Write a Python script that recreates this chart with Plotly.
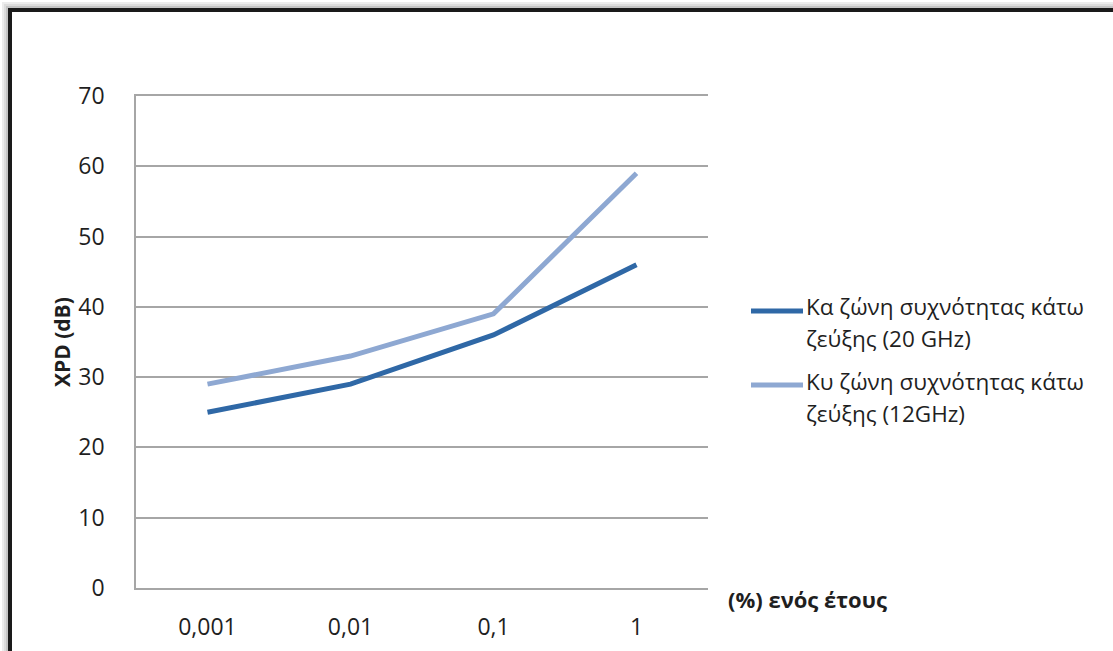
import plotly.graph_objects as go

# Percentage of the year (category axis) and XPD values in dB
categories = ["0,001", "0,01", "0,1", "1"]
ka_values = [25, 29, 36, 46]
ku_values = [29, 33, 39, 59]
series_names = [
    "Κα ζώνη συχνότητας κάτω<br>ζεύξης (20 GHz)",
    "Κυ ζώνη συχνότητας κάτω<br>ζεύξης (12GHz)",
]
series_colors = ["#2f68a6", "#8ea8d2"]
y_ticks = [0, 10, 20, 30, 40, 50, 60, 70]

W, H = 1113, 651
L, R, T, B = 136, 405, 96, 63
FONT = "Open Sans"
TXT = "#1f1f1f"
GRID = "#a6a6a6"


def px_x(px):
    return (px - L) / (W - L - R)


def px_y(py):
    return (H - B - py) / (H - T - B)


fig = go.Figure()
for vals, name, col in zip([ka_values, ku_values], series_names, series_colors):
    fig.add_trace(go.Scatter(
        x=categories, y=vals, mode="lines", name=name, showlegend=False,
        line=dict(color=col, width=5),
    ))

# outer frame with a soft shadow on the top/left
shapes = []
for off, col in [(7, "#ececec"), (5, "#dcdcdc"), (3, "#c4c4c4")]:
    shapes.append(dict(
        type="rect", xref="paper", yref="paper", layer="above",
        x0=px_x(10 - off), x1=px_x(W + 40), y0=px_y(H + 40), y1=px_y(10 - off),
        line=dict(color=col, width=2), fillcolor="rgba(0,0,0,0)",
    ))
shapes.append(dict(
    type="rect", xref="paper", yref="paper", layer="above",
    x0=px_x(10), x1=px_x(W + 40), y0=px_y(H + 40), y1=px_y(10),
    line=dict(color="#1a1a1a", width=4), fillcolor="rgba(0,0,0,0)",
))

annotations = [
    dict(
        text="<b>(%) ενός έτους</b>", xref="paper", yref="paper",
        x=px_x(726), y=px_y(599), xanchor="left", yanchor="middle",
        showarrow=False, font=dict(size=22, color=TXT),
    ),
    dict(
        text="<b>XPD (dB)</b>", xref="paper", yref="paper", textangle=-90,
        x=px_x(62), y=0.5, xanchor="center", yanchor="middle",
        showarrow=False, font=dict(size=21, color=TXT),
    ),
]

# legend: a line sample beside each two-line series label
legend_rows = [(311, 306), (385, 381)]
for (sample_y, text_y), name, col in zip(legend_rows, series_names, series_colors):
    shapes.append(dict(
        type="line", xref="paper", yref="paper", layer="above",
        x0=px_x(751), x1=px_x(803), y0=px_y(sample_y), y1=px_y(sample_y),
        line=dict(color=col, width=5),
    ))
    for i, line_text in enumerate(name.split("<br>")):
        annotations.append(dict(
            text=line_text, xref="paper", yref="paper",
            x=px_x(804), y=px_y(text_y + 32 * i), xanchor="left", yanchor="middle",
            showarrow=False, font=dict(size=22.5, color=TXT),
        ))

fig.update_layout(
    width=W, height=H,
    margin=dict(l=L, r=R, t=T, b=B, pad=0),
    paper_bgcolor="white", plot_bgcolor="white",
    font=dict(family=FONT, size=22, color=TXT),
    showlegend=False,
    xaxis=dict(
        type="category", range=[-0.5, 3.5], automargin=False,
        showgrid=False, showline=True, mirror=True, linecolor=GRID, linewidth=1.5,
        ticks="", ticklabelstandoff=18, tickfont=dict(size=23),
        fixedrange=True,
    ),
    yaxis=dict(
        range=[0, 70], tickvals=y_ticks, ticktext=[str(v) for v in y_ticks],
        automargin=False,
        showgrid=True, gridcolor=GRID, gridwidth=1.5,
        showline=True, linecolor=GRID, linewidth=1.5, zeroline=False,
        ticks="", ticklabelstandoff=25, tickfont=dict(size=23),
    ),
    shapes=shapes,
    annotations=annotations,
)

fig.write_html("out.html")
